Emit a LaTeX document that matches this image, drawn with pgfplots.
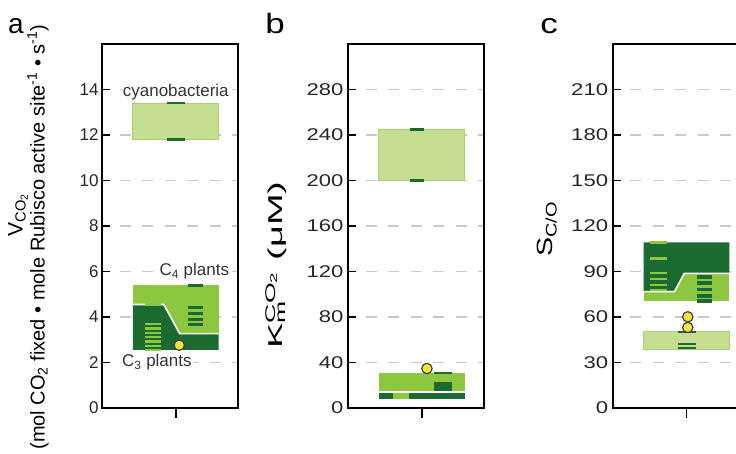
\documentclass[border=0pt]{standalone}
\usepackage{pgfplots}
\pgfplotsset{compat=1.18}
\usepackage{fontspec}
\setmainfont{Liberation Sans}

\definecolor{cthree}{HTML}{1B6A30}
\definecolor{cfour}{HTML}{8DC63F}
\definecolor{cyano}{HTML}{C5DE92}
\definecolor{cyanoedge}{HTML}{A8D06E}
\definecolor{gridgray}{HTML}{CBC8C8}
\definecolor{dotyellow}{HTML}{F4E43A}

\pgfplotsset{
  panel/.style={
    scale only axis, width=136pt, height=364pt,
    xmin=-1.72, xmax=1.45, ymin=0,
    xtick=\empty,
    ytick pos=left, tick align=inside, major tick length=8pt,
    axis line style={line width=1.8pt},
    tick style={black, line width=1.8pt},
    ymajorgrids,
    grid style={gridgray, line width=1.8pt, dash pattern=on 11pt off 11.5pt, dash phase=5pt},
    /pgf/number format/assume math mode=true,
    yticklabel style={font=\fontsize{17}{17}\selectfont, text=black!85},
    clip=false,
  },
  % panels b and c are set a little wider
  widepanel/.style={panel, yticklabel style={xscale=1.3}},
  seg/.style={only marks, mark=-, mark size=#1},
  dot/.style={only marks, mark=*, mark size=5.2pt,
    mark options={fill=dotyellow, draw=black!75, line width=1.2pt}},
}
\tikzset{
  lab/.style={fill=white, inner sep=1.5pt, text=black!80,
    font=\fontsize{17}{17}\selectfont},
  letter/.style={anchor=base west, inner sep=0pt, font=\fontsize{28}{28}\selectfont},
}

\begin{document}
\begin{tikzpicture}
\useasboundingbox (0pt,0pt) rectangle (736pt,454pt);
\clip (0pt,0pt) rectangle (736pt,454pt);

% ---- a: turnover rate ----
\begin{axis}[panel, at={(102pt,46pt)}, anchor=south west, ymax=16, ytick={0,2,...,14}]
  % cyanobacteria range
  \addplot[fill=cyano, draw=cyanoedge, line width=1pt]
    coordinates {(-1,11.8) (1,11.8) (1,13.4) (-1,13.4)} -- cycle;
  \addplot[seg=9pt, color=cthree, mark options={line width=2.5pt}]
    coordinates {(0,13.4) (0,11.8)};
  % C4 range
  \addplot[fill=cfour, draw=none]
    coordinates {(-1,3.27) (1,3.27) (1,5.4) (-1,5.4)} -- cycle;
  % C3 range
  \addplot[fill=cthree, draw=none]
    coordinates {(-1,2.55) (1,2.55) (1,3.27) (0.09,3.27) (-0.28,4.55) (-1,4.55)} -- cycle;
  \addplot[white, line width=1.6pt]
    coordinates {(-1,4.55) (-0.28,4.55) (0.09,3.27) (1,3.27)};
  % single species values
  \addplot[seg=8pt, color=cfour, mark options={line width=2.4pt}]
    coordinates {(-0.52,4.55) (-0.52,3.68) (-0.52,3.49) (-0.52,3.30) (-0.52,3.11)
                 (-0.52,2.92) (-0.52,2.73) (-0.52,2.54)};
  \addplot[seg=7.5pt, color=cthree, mark options={line width=3pt}]
    coordinates {(0.45,5.4) (0.45,4.4) (0.45,4.15) (0.45,3.9) (0.45,3.65)};
  \addplot[dot] coordinates {(0.08,2.76)};
  \node[lab] at (axis cs:0,13.9) {cyanobacteria};
  \node[lab, anchor=east] at (axis cs:1.28,6) {C\textsubscript{4} plants};
  \node[lab, anchor=west] at (axis cs:-1.29,2) {C\textsubscript{3} plants};
  \draw[line width=1.8pt] (axis cs:0,0) -- ++(0pt,-10pt);
\end{axis}

% ---- b: Km for CO2 ----
\begin{axis}[widepanel, at={(348pt,46pt)}, anchor=south west, ymax=320, ytick={0,40,...,280}]
  \addplot[fill=cyano, draw=cyanoedge, line width=1pt]
    coordinates {(-1,200) (1,200) (1,245) (-1,245)} -- cycle;
  \addplot[seg=7pt, color=cthree, mark options={line width=2.5pt}]
    coordinates {(-0.12,245) (-0.12,200)};
  \addplot[fill=cfour, draw=none]
    coordinates {(-1,14.2) (1,14.2) (1,30.6) (-1,30.6)} -- cycle;
  \addplot[fill=cthree, draw=none]
    coordinates {(-1,7.7) (1,7.7) (1,14.2) (-1,14.2)} -- cycle;
  \addplot[fill=cfour, draw=none]
    coordinates {(-0.68,7.7) (-0.29,7.7) (-0.29,14.2) (-0.68,14.2)} -- cycle;
  \addplot[white, line width=1.6pt] coordinates {(-1,14.2) (1,14.2)};
  \addplot[fill=cthree, draw=none]
    coordinates {(0.29,15.3) (0.7,15.3) (0.7,23) (0.29,23)} -- cycle;
  \addplot[seg=9pt, color=cthree, mark options={line width=2.4pt}] coordinates {(0.5,30.6)};
  \addplot[dot] coordinates {(0.12,34.7)};
  \draw[line width=1.8pt] (axis cs:0,0) -- ++(0pt,-10pt);
\end{axis}

% ---- c: specificity factor ----
\begin{axis}[widepanel, at={(612.7pt,46pt)}, anchor=south west, ymax=240, ytick={0,30,...,210}]
  \addplot[fill=cyano, draw=cyanoedge, line width=1pt]
    coordinates {(-1,38.8) (1,38.8) (1,50.5) (-1,50.5)} -- cycle;
  \addplot[seg=9pt, color=cthree, mark options={line width=2.4pt}]
    coordinates {(0,50.3) (0,42) (0,39.5)};
  \addplot[fill=cfour, draw=none]
    coordinates {(-1,70.7) (1,70.7) (1,88.8) (-1,88.8)} -- cycle;
  \addplot[fill=cthree, draw=none]
    coordinates {(-1,76.7) (-0.28,76.7) (-0.05,88.8) (1,88.8) (1,109.2) (-1,109.2)} -- cycle;
  \addplot[white, line width=1.6pt]
    coordinates {(-1,76.7) (-0.28,76.7) (-0.05,88.8) (1,88.8)};
  \addplot[seg=8.3pt, color=cfour, mark options={line width=2.4pt}]
    coordinates {(-0.65,109) (-0.65,98.5) (-0.65,89) (-0.65,85) (-0.65,81) (-0.65,77.8)};
  \addplot[seg=7.5pt, color=cthree, mark options={line width=3.5pt}]
    coordinates {(0.43,86.5) (0.43,82.5) (0.43,78) (0.43,74) (0.43,70.7)};
  \addplot[dot] coordinates {(0.03,53.1) (0.03,60.1)};
  \draw[line width=1.8pt] (axis cs:0,0) -- ++(0pt,-10pt);
\end{axis}

% axis titles and panel letters
\node[rotate=90, font=\fontsize{21}{21}\selectfont] at (18pt,239pt)
  {V\textsubscript{CO\textsubscript{2}}};
\node[rotate=90, font=\fontsize{20}{20}\selectfont] at (38pt,217pt)
  {(mol CO\textsubscript{2} fixed • mole Rubisco active site\textsuperscript{-1} • s\textsuperscript{-1})};
\node[rotate=90, xscale=1.9, font=\fontsize{20}{20}\selectfont] at (276pt,189pt)
  {K\rlap{\textsubscript{m}}\textsuperscript{CO\textsubscript{2}} (μM)};
\node[rotate=90, xscale=1.3, font=\fontsize{22}{22}\selectfont] at (547pt,225pt)
  {S\textsubscript{C/O}};
\node[letter] at (8pt,420pt) {a};
\node[letter, xscale=1.25] at (265pt,420pt) {b};
\node[letter, xscale=1.25] at (540pt,420pt) {c};
\end{tikzpicture}
\end{document}
